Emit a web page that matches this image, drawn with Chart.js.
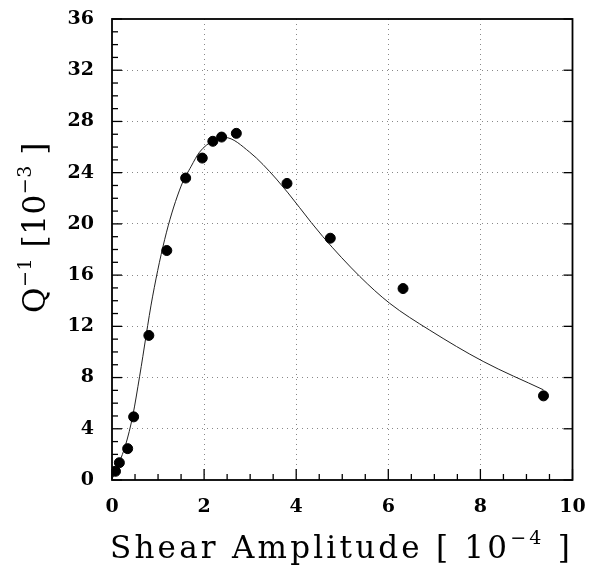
<!DOCTYPE html>
<html>
<head>
<meta charset="utf-8">
<script src="https://cdn.jsdelivr.net/npm/chart.js@4.4.1/dist/chart.umd.min.js"></script>
<style>
  html, body { margin: 0; padding: 0; background: #fff; }
  #wrap { width: 592px; height: 569px; position: relative; }
</style>
</head>
<body>
<div id="wrap"><canvas id="c" width="592" height="569"></canvas></div>
<script>
// Measured data points (shear amplitude [1e-4], Q^-1 [1e-3])
const shearAmp = [0.076, 0.16, 0.34, 0.47, 0.80, 1.19, 1.60, 1.96, 2.19, 2.38, 2.70, 3.80, 4.74, 6.32, 9.37];
const qInverse = [0.68, 1.35, 2.45, 4.93, 11.29, 17.92, 23.58, 25.14, 26.45, 26.78, 27.07, 23.16, 18.88, 14.95, 6.57];

// Fitted curve
const curveX = [0.02, 0.15, 0.30, 0.45, 0.60, 0.88, 1.18, 1.50, 1.72, 1.90, 2.20, 2.45, 2.99, 3.57, 4.58, 5.38, 6.03, 6.90, 8.06, 9.37];
const curveY = [0.2, 1.3, 2.8, 5.0, 8.1, 14.3, 19.3, 22.95, 24.5, 25.6, 26.5, 26.75, 25.6, 23.5, 19.0, 15.9, 13.8, 11.7, 9.26, 7.04];

// Axis ticks
const xTickValues = [0, 2, 4, 6, 8, 10];
const yTickValues = [0, 4, 8, 12, 16, 20, 24, 28, 32, 36];

const xTitleParts = [{t: 'Shear Amplitude [ 10'}, {t: '\u22124', sup: true}, {t: ' ]'}];
const yTitleParts = [{t: 'Q'}, {t: '\u22121', sup: true}, {t: ' [10'}, {t: '\u22123', sup: true}, {t: ' ]'}];

const points = shearAmp.map((x, i) => ({x: x, y: qInverse[i]}));
const curve = curveX.map((x, i) => ({x: x, y: curveY[i]}));

const FONT = '"DejaVu Serif", "Liberation Serif", serif';

function drawParts(ctx, parts, size, targetWidth) {
  ctx.textBaseline = 'alphabetic';
  ctx.textAlign = 'left';
  let natural = 0, n = 0;
  parts.forEach(p => {
    ctx.font = (p.sup ? Math.round(size * 0.6) : size) + 'px ' + FONT;
    ctx.letterSpacing = '0px';
    natural += ctx.measureText(p.t).width;
    n += p.t.length;
  });
  const ls = (targetWidth - natural) / n;
  let x = 0;
  parts.forEach(p => {
    ctx.font = (p.sup ? Math.round(size * 0.6) : size) + 'px ' + FONT;
    ctx.letterSpacing = ls + 'px';
    const y = p.sup ? -size * 0.45 : 0;
    ctx.fillText(p.t, x, y);
    ctx.letterSpacing = '0px';
    x += ctx.measureText(p.t).width + ls * p.t.length;
  });
  ctx.letterSpacing = '0px';
}

const decoPlugin = {
  id: 'deco',
  afterDatasetsDraw(chart) {
    const ctx = chart.ctx;
    const xs = chart.scales.x, ys = chart.scales.y;
    const a = chart.chartArea;
    ctx.save();
    ctx.strokeStyle = '#000';
    ctx.lineWidth = 1.3;
    for (let v = 0; v <= 36; v += 1) {
      const py = ys.getPixelForValue(v);
      const len = (v % 4 === 0) ? 10 : 6;
      ctx.beginPath(); ctx.moveTo(a.left, py); ctx.lineTo(a.left + len, py); ctx.stroke();
      if (v % 4 === 0) {
        ctx.beginPath(); ctx.moveTo(a.right, py); ctx.lineTo(a.right - 9, py); ctx.stroke();
      }
    }
    for (let k = 0; k <= 20; k++) {
      const v = k * 0.5;
      const px = xs.getPixelForValue(v);
      const len = (k % 4 === 0) ? 11 : 6;
      ctx.beginPath(); ctx.moveTo(px, a.bottom); ctx.lineTo(px, a.bottom - len); ctx.stroke();
    }
    ctx.lineWidth = 1.8;
    ctx.strokeRect(a.left, a.top, a.right - a.left, a.bottom - a.top);
    ctx.restore();

    ctx.save();
    ctx.fillStyle = '#000';
    ctx.translate(110, 558);
    drawParts(ctx, xTitleParts, 31, 463);
    ctx.restore();

    ctx.save();
    ctx.fillStyle = '#000';
    ctx.translate(45, 313);
    ctx.rotate(-Math.PI / 2);
    drawParts(ctx, yTitleParts, 31, 171);
    ctx.restore();
  }
};

new Chart(document.getElementById('c'), {
  type: 'scatter',
  data: {
    datasets: [
      {
        label: 'fit',
        data: curve,
        showLine: true,
        borderColor: '#222',
        borderWidth: 1,
        pointRadius: 0,
        cubicInterpolationMode: 'monotone',
        order: 2
      },
      {
        label: 'data',
        data: points,
        showLine: false,
        backgroundColor: '#000',
        borderColor: '#000',
        pointRadius: 5,
        order: 1
      }
    ]
  },
  options: {
    responsive: false,
    animation: false,
    devicePixelRatio: 1,
    layout: { padding: { top: 19, right: 19.5, left: 0, bottom: 0 } },
    plugins: { legend: { display: false }, tooltip: { enabled: false } },
    scales: {
      x: {
        type: 'linear', min: 0, max: 10,
        afterFit: s => { s.height = 89; s.paddingLeft = 0; s.paddingRight = 0; },
        afterBuildTicks: s => { s.ticks = xTickValues.map(v => ({value: v})); },
        ticks: { color: '#000', font: { family: FONT, size: 19, weight: 'bold' }, padding: 16, maxRotation: 0 },
        grid: {
          drawTicks: false,
          color: c => (c.tick && (c.tick.value === 0 || c.tick.value === 10)) ? 'rgba(0,0,0,0)' : '#888',
          lineWidth: 1
        },
        border: { display: false, dash: [1, 4] }
      },
      y: {
        type: 'linear', min: 0, max: 36,
        afterFit: s => { s.width = 112; s.paddingTop = 0; s.paddingBottom = 0; },
        afterBuildTicks: s => { s.ticks = yTickValues.map(v => ({value: v})); },
        ticks: { color: '#000', font: { family: FONT, size: 19, weight: 'bold' }, padding: 18 },
        grid: {
          drawTicks: false,
          color: c => (c.tick && (c.tick.value === 0 || c.tick.value === 36)) ? 'rgba(0,0,0,0)' : '#888',
          lineWidth: 1
        },
        border: { display: false, dash: [1, 4] }
      }
    }
  },
  plugins: [decoPlugin]
});
</script>
</body>
</html>
